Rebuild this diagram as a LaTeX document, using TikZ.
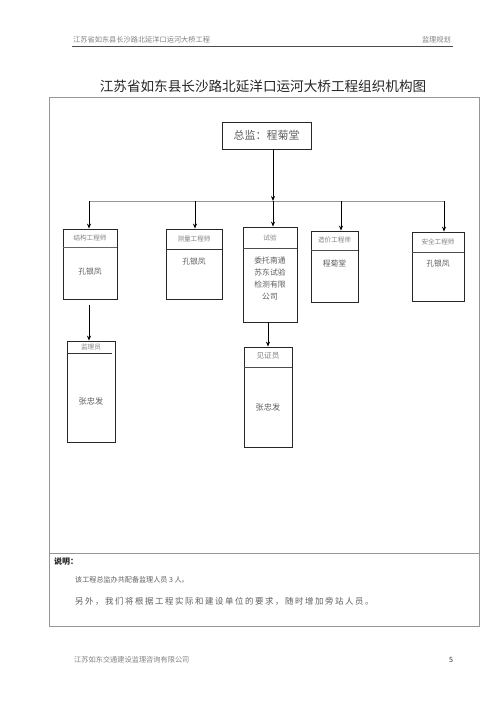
\documentclass[tikz,border=0pt]{standalone}
\usepackage{fontspec}
\setmainfont{Noto Sans CJK SC}
\usetikzlibrary{arrows.meta}
\definecolor{framegray}{RGB}{150,150,150}
\definecolor{txtgray}{RGB}{95,95,95}
\definecolor{lightgray}{RGB}{130,130,130}
\tikzset{
  box/.style={draw=black!85, line width=0.8pt, fill=white, inner sep=0pt},
  arr/.style={draw=black, line width=0.8pt, -{Stealth[length=5pt,width=4pt]}},
  hdr/.style={font=\fontsize{6.6}{7}\selectfont, text=lightgray, inner sep=0pt},
  body/.style={font=\fontsize{7.8}{12}\selectfont, text=txtgray, inner sep=0pt, align=center},
  plain/.style={inner sep=0pt},
}
\begin{document}
\begin{tikzpicture}[x=1pt,y=-1pt]
\useasboundingbox[fill=white] (0,0) rectangle (500,707);
% page header
\node[plain, anchor=west, font=\fontsize{7.2}{8}\selectfont, text=lightgray] (ph1) at (73,40) {江苏省如东县长沙路北延洋口运河大桥工程};
\node[plain, anchor=east, font=\fontsize{7.2}{8}\selectfont, text=lightgray] (ph2) at (451,40) {监理规划};
\draw[black!70, line width=0.8pt] (72,46.5) -- (453,46.5);
% title
\node[plain, font=\fontsize{13.6}{15}\selectfont, text=black!85] (title) at (263,86) {江苏省如东县长沙路北延洋口运河大桥工程组织机构图};
% frame
\draw[framegray, line width=0.9pt] (49,97) rectangle (479,626);
\draw[framegray, line width=0.9pt] (49,553) -- (479,553);
% top box
\node[box, minimum width=89pt, minimum height=27pt, font=\fontsize{11}{12}\selectfont, text=txtgray] (top) at (266.5,135.5) {总监：程菊堂};
% bar
\coordinate (a1) at (89,201);
\coordinate (a2) at (195,201);
\coordinate (j) at (273,201);
\coordinate (a4) at (341,201);
\coordinate (a5) at (444,201);
\draw[framegray, line width=0.9pt] (a1) -- (a5);
\draw[arr] (top.south -| j) -- (j);
% second row boxes
\node[box, minimum width=54pt, minimum height=70pt] (b1) at (90,264) {};
\node[box, minimum width=56pt, minimum height=70pt] (b2) at (194,264) {};
\node[box, minimum width=54pt, minimum height=95pt] (b3) at (270,274.5) {};
\node[box, minimum width=47pt, minimum height=71pt] (b4) at (334.5,266.5) {};
\node[box, minimum width=52pt, minimum height=69pt] (b5) at (438,266.5) {};
\draw[arr] (a1) -- (a1 |- b1.north);
\draw[arr] (a2) -- (a2 |- b2.north);
\draw[arr] (j) -- (j |- b3.north);
\draw[arr] (a4) -- (a4 |- b4.north);
\draw[arr] (a5) -- (a5 |- b5.north);
% dividers
\draw[black!60, line width=0.7pt] (b1.west |- 0,247) -- (b1.east |- 0,247);
\draw[black!80, line width=0.8pt] (b2.west |- 0,249) -- (b2.east |- 0,249);
\draw[black!70, line width=0.7pt] (b3.west |- 0,248) -- (b3.east |- 0,248);
\draw[black!70, line width=0.7pt] (b4.west |- 0,250) -- (b4.east |- 0,250);
\draw[black!70, line width=0.7pt] (b5.west |- 0,252) -- (b5.east |- 0,252);
% headers
\node[hdr] (h1) at (90,238) {结构工程师};
\node[hdr] (h2) at (194,239) {测量工程师};
\node[hdr] (h3) at (270,237.5) {试验};
\node[hdr] (h4) at (334.5,240.5) {造价工程师};
\node[hdr] (h5) at (438,242) {安全工程师};
% bodies
\node[body] (t1) at (90,272) {孔银凤};
\node[body] (t2) at (194,262) {孔银凤};
\node[body] (t3) at (270,279) {委托南通\\苏东试验\\检测有限\\公司};
\node[body] (t4) at (334.5,264) {程菊堂};
\node[body] (t5) at (438,264) {孔银凤};
% third row
\node[box, minimum width=48pt, minimum height=101pt] (m1) at (91,391.5) {};
\node[box, minimum width=48pt, minimum height=100pt] (w1) at (268,397) {};
\draw[black!80, line width=0.8pt] (m1.west |- 0,353) -- (112,353);
\draw[black!70, line width=0.7pt] (w1.west |- 0,367) -- (w1.east |- 0,367);
\node[hdr] (hm) at (91,347.5) {监理员};
\node[hdr, font=\fontsize{7.6}{8}\selectfont] (hw) at (268,356) {见证员};
\node[body, font=\fontsize{8.2}{9}\selectfont] (tm) at (91,401) {张忠发};
\node[body, font=\fontsize{8.2}{9}\selectfont] (tw) at (268,407) {张忠发};
\draw[arr] ([yshift=-6pt]b1.south -| a1) -- (a1 |- m1.north);
\draw[arr] ([xshift=-2pt]b3.south) -- ([xshift=-2pt]b3.south |- w1.north);
% notes
\node[plain, anchor=west, font=\fontsize{8}{9}\selectfont\bfseries, text=black!85] (n0) at (54,561) {说明：};
\node[plain, anchor=west, font=\fontsize{7.1}{9}\selectfont, text=txtgray] (n1) at (75,580) {该工程总监办共配备监理人员 3 人。};
\node[plain, anchor=west, font=\fontsize{8.4}{9}\selectfont\addfontfeatures{LetterSpace=19}, text=txtgray] (n2) at (75,601) {另外，我们将根据工程实际和建设单位的要求，随时增加旁站人员。};
% footer
\node[plain, anchor=west, font=\fontsize{7.2}{8}\selectfont, text=lightgray] (f1) at (74,660) {江苏如东交通建设监理咨询有限公司};
\node[plain, font=\fontsize{7.2}{8}\selectfont, text=black!80] (f2) at (451,660) {5};
\end{tikzpicture}
\end{document}
